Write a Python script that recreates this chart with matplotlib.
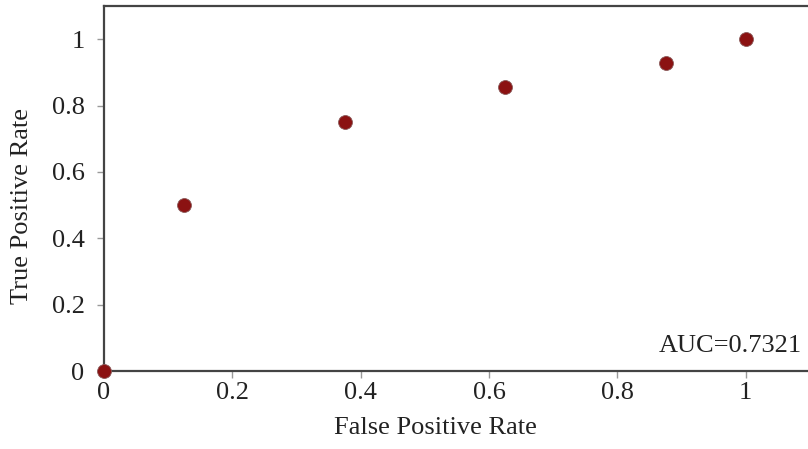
import numpy as np
import matplotlib
matplotlib.use("Agg")
import matplotlib.pyplot as plt

# ROC points
fpr = [0.0, 0.125, 0.375, 0.625, 0.875, 1.0]
tpr = [0.0, 0.5, 0.75, 0.857, 0.929, 1.0]
auc_text = "AUC=0.7321"
ticks = [0, 0.2, 0.4, 0.6, 0.8, 1]
tick_labels = ["0", "0.2", "0.4", "0.6", "0.8", "1"]

plt.rcParams['font.family'] = ['Liberation Serif', 'DejaVu Serif']

fig = plt.figure(figsize=(8.08, 4.49), dpi=100)
ax = fig.add_axes([104/808, 78/449, 1 - 104/808, 365/449])

ax.scatter(fpr, tpr, s=100, color='#8b1212', edgecolors='#8a5a5a',
           linewidths=0.6, zorder=5, clip_on=False)

ax.set_xlim(0, 1.097)
ax.set_ylim(0, 1.1)
ax.set_xticks(ticks)
ax.set_xticklabels(tick_labels)
ax.set_yticks(ticks)
ax.set_yticklabels(tick_labels)

for side in ['left', 'bottom', 'top']:
    ax.spines[side].set_color('#444444')
    ax.spines[side].set_linewidth(1.6)
ax.spines['right'].set_visible(False)

ax.tick_params(direction='out', length=5, width=1, color='#999999',
               labelsize=19, labelcolor='#222222')
ax.tick_params(axis='x', pad=3)
ax.tick_params(axis='y', pad=9)

ax.set_xlabel('False Positive Rate', fontsize=19, color='#222222')
ax.set_ylabel('True Positive Rate', fontsize=19, color='#222222')
ax.xaxis.set_label_coords(0.471, -0.126)
ax.yaxis.set_label_coords(-0.101, 0.453)

ax.text(0.9915, 0.052, auc_text, transform=ax.transAxes, ha='right',
        va='baseline', fontsize=19, color='#222222')

fig.savefig('out.png', dpi=100)
